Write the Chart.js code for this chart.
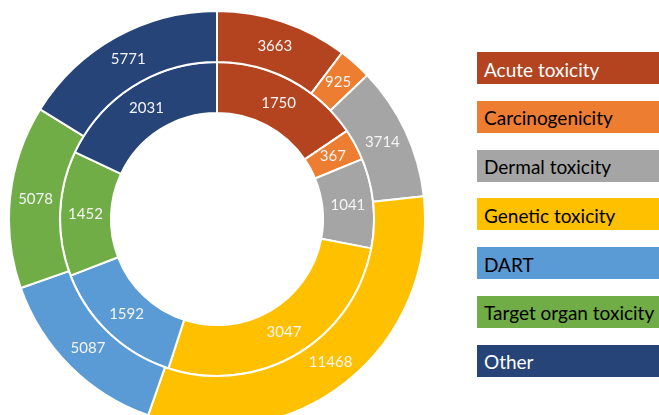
<!DOCTYPE html>
<html>
<head>
<meta charset="utf-8">
<script src="https://cdn.jsdelivr.net/npm/chart.js@4.4.0/dist/chart.umd.min.js"></script>
<style>
  html, body { margin: 0; padding: 0; width: 659px; height: 415px; overflow: hidden; background: #fff; }
  #pie { position: absolute; left: 7.7px; top: 10px; width: 418px; height: 418px; }
  #legend { position: absolute; left: 477px; top: 52px; font-family: Lato, sans-serif; }
  .item { width: 182px; height: 32px; margin-bottom: 16.8px; display: flex; align-items: center;
          box-sizing: border-box; padding: 2px 0 0 7px; font-size: 19px; white-space: nowrap; overflow: hidden; }
</style>
</head>
<body>
<div id="pie"><canvas id="chart"></canvas></div>
<div id="legend"></div>
<script>
// categories, outer ring (total) and inner ring
const categories = ["Acute toxicity", "Carcinogenicity", "Dermal toxicity", "Genetic toxicity", "DART", "Target organ toxicity", "Other"];
const outerValues = [3663, 925, 3714, 11468, 5087, 5078, 5771];
const innerValues = [1750, 367, 1041, 3047, 1592, 1452, 2031];

const colors = ["#B4441F", "#ED7D31", "#A5A5A5", "#FFC000", "#5B9BD5", "#70AD47", "#264478"];
const legendText = ["#ffffff", "#000000", "#000000", "#000000", "#000000", "#000000", "#ffffff"];

// numbers inside each slice
const valueLabels = {
  id: "valueLabels",
  afterDatasetsDraw(chart) {
    const ctx = chart.ctx;
    ctx.save();
    ctx.font = "15px Lato";
    ctx.fillStyle = "#f4f4f4";
    ctx.textAlign = "center";
    ctx.textBaseline = "middle";
    chart.data.datasets.forEach((ds, i) => {
      chart.getDatasetMeta(i).data.forEach((arc, j) => {
        const p = arc.tooltipPosition();
        ctx.fillText(ds.data[j], p.x, p.y);
      });
    });
    ctx.restore();
  }
};

// legend as coloured boxes with the label written inside
const boxLegend = {
  id: "boxLegend",
  afterUpdate(chart) {
    const box = document.getElementById("legend");
    box.innerHTML = "";
    chart.options.plugins.legend.labels.generateLabels(chart).forEach((item, i) => {
      const div = document.createElement("div");
      div.className = "item";
      div.style.background = item.fillStyle;
      div.style.color = legendText[i];
      div.textContent = item.text;
      box.appendChild(div);
    });
  }
};

new Chart(document.getElementById("chart"), {
  type: "doughnut",
  data: {
    labels: categories,
    datasets: [
      { data: outerValues, backgroundColor: colors, borderColor: "#fff", borderWidth: 2 },
      { data: innerValues, backgroundColor: colors, borderColor: "#fff", borderWidth: 2 },
    ],
  },
  options: {
    responsive: true,
    maintainAspectRatio: false,
    animation: false,
    cutout: "51%",
    layout: { padding: 0 },
    plugins: {
      legend: { display: false },
      tooltip: { enabled: false },
    },
  },
  plugins: [valueLabels, boxLegend],
});
</script>
</body>
</html>
